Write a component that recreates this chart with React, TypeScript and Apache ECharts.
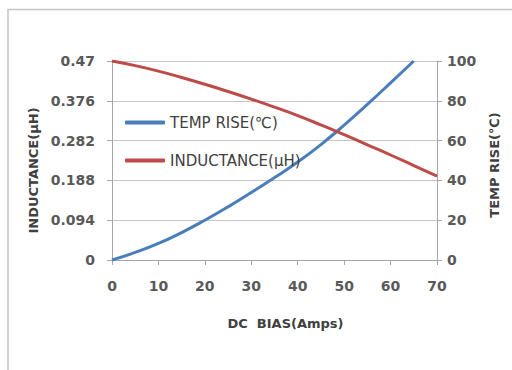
import React, { useEffect, useRef } from "react";
import * as echarts from "echarts";

const ampsTemp = [0, 5, 10, 15, 20, 25, 30, 35, 40, 45, 50, 55, 60, 65];
const tempRise = [0, 3.8, 8.3, 13.8, 20, 26.7, 33.9, 41.4, 49.2, 58, 67.8, 78.2, 89, 100];
const ampsInd = [0, 5, 10, 15, 20, 25, 30, 35, 40, 45, 50, 55, 60, 65, 70];
const inductance = [0.47, 0.459, 0.446, 0.431, 0.415, 0.398, 0.38, 0.361, 0.341, 0.319, 0.296, 0.272, 0.248, 0.223, 0.198];
const leftTickStep = 0.094;
const leftMax = 0.47;
const rightMax = 100;
const rightStep = 20;
const xMax = 70;
const xStep = 10;

const FONT = "DejaVu Sans";
const TICK_COLOR = "#595959";
const NAME_COLOR = "#404040";

export default function App() {
  const ref = useRef<HTMLDivElement>(null);
  useEffect(() => {
    if (!ref.current) return;
    const chart = echarts.init(ref.current, null, { renderer: "svg" });
    const tickLabel = { fontFamily: FONT, fontWeight: "bold" as const, fontSize: 14, color: TICK_COLOR };
    const nameStyle = { fontFamily: FONT, fontWeight: "bold" as const, fontSize: 13, color: NAME_COLOR };
    chart.setOption({
      animation: false,
      backgroundColor: "#ffffff",
      graphic: [
        {
          type: "rect",
          silent: true,
          shape: { x: 8, y: 9.5, width: 600, height: 500 },
          style: { fill: "none", stroke: "#c4c4c4", lineWidth: 1.5 },
        },
      ],
      grid: { left: 112, right: 75, top: 61, bottom: 110 },
      legend: {
        orient: "vertical",
        left: 125,
        top: 115,
        padding: 0,
        itemWidth: 40,
        itemHeight: 4,
        itemGap: 23,
        icon: "roundRect",
        textStyle: { fontFamily: FONT, fontSize: 15, color: NAME_COLOR },
        data: ["TEMP RISE(℃)", "INDUCTANCE(μH)"],
      },
      xAxis: {
        type: "value",
        min: 0,
        max: xMax,
        interval: xStep,
        name: "DC  BIAS(Amps)",
        nameLocation: "middle",
        nameGap: 57,
        nameTextStyle: { ...nameStyle, padding: [0, 0, 0, 22] },
        axisLine: { show: true, lineStyle: { color: "#a6a6a6", width: 1 } },
        axisTick: { show: true, length: 5, lineStyle: { color: "#a6a6a6" } },
        axisLabel: { ...tickLabel, margin: 19 },
        splitLine: { show: false },
      },
      yAxis: [
        {
          type: "value",
          position: "left",
          min: 0,
          max: leftMax,
          interval: leftTickStep,
          name: "INDUCTANCE(μH)",
          nameLocation: "middle",
          nameGap: 67,
          nameTextStyle: { ...nameStyle, padding: [0, 20, 0, 0] },
          axisLine: { show: true, lineStyle: { color: "#a6a6a6", width: 1 } },
          axisTick: { show: true, length: 5, lineStyle: { color: "#a6a6a6" } },
          axisLabel: {
            ...tickLabel,
            margin: 17,
            formatter: (v: number) => String(+v.toFixed(3)),
          },
          splitLine: { show: true, lineStyle: { color: "#c6c6c6", width: 1 } },
        },
        {
          type: "value",
          position: "right",
          min: 0,
          max: rightMax,
          interval: rightStep,
          name: "TEMP RISE(℃)",
          nameLocation: "middle",
          nameGap: 51,
          nameTextStyle: { ...nameStyle, padding: [0, 9, 0, 0] },
          axisLine: { show: true, lineStyle: { color: "#a6a6a6", width: 1 } },
          axisTick: { show: true, length: 5, lineStyle: { color: "#a6a6a6" } },
          axisLabel: { ...tickLabel, margin: 10 },
          splitLine: { show: false },
        },
      ],
      series: [
        {
          name: "TEMP RISE(℃)",
          type: "line",
          yAxisIndex: 1,
          smooth: true,
          showSymbol: false,
          color: "#4a7ebb",
          lineStyle: { color: "#4a7ebb", width: 3 },
          data: ampsTemp.map((a, i) => [a, tempRise[i]]),
        },
        {
          name: "INDUCTANCE(μH)",
          type: "line",
          yAxisIndex: 0,
          smooth: true,
          showSymbol: false,
          color: "#be4b48",
          lineStyle: { color: "#be4b48", width: 3 },
          data: ampsInd.map((a, i) => [a, inductance[i]]),
        },
      ],
    });
    return () => chart.dispose();
  }, []);
  return (
    <div
      ref={ref}
      style={{ position: "fixed", left: 0, top: 0, width: 512, height: 370, background: "#fff" }}
    />
  );
}
